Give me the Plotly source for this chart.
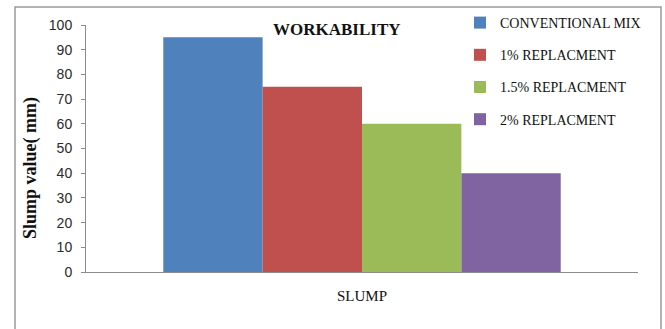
import plotly.graph_objects as go

# Slump test results for each mix
categories = ["SLUMP"]
series_names = ["CONVENTIONAL MIX", "1% REPLACMENT", "1.5% REPLACMENT", "2% REPLACMENT"]
slump_values = [95, 75, 60, 40]
colors = ["#4F81BD", "#C0504D", "#9BBB59", "#8064A2"]
y_ticks = [0, 10, 20, 30, 40, 50, 60, 70, 80, 90, 100]

W, H = 665, 329
L, R, T, B = 86, 27, 25, 57
pw, ph = W - L - R, H - T - B

fig = go.Figure()
for i, (name, val, col) in enumerate(zip(series_names, slump_values, colors)):
    fig.add_trace(go.Bar(
        x=categories, y=[val], name=name, marker_color=col,
        marker_line_width=0, legendgroup=f"g{i}",
    ))

def px_x(v):
    return (v - L) / pw

def px_y(v):
    return (H - B - v) / ph

serif = "Liberation Serif"

fig.update_layout(
    width=W, height=H,
    margin=dict(l=L, r=R, t=T, b=B, autoexpand=False),
    paper_bgcolor="white", plot_bgcolor="white",
    barmode="group", bargap=0.28, bargroupgap=0,
    showlegend=True,
    legend=dict(
        x=px_x(460), y=px_y(7), xanchor="left", yanchor="top",
        font=dict(family=serif, size=14, color="#111"),
        bgcolor="rgba(0,0,0,0)", traceorder="grouped", tracegroupgap=11,
        itemwidth=30,
    ),
    xaxis=dict(
        showticklabels=False, ticks="", showgrid=False, automargin=False,
        showline=True, linecolor="#8c8c8c", linewidth=1,
        title=dict(text="SLUMP", standoff=18,
                   font=dict(family=serif, size=15, color="#111")),
        fixedrange=True,
    ),
    yaxis=dict(
        range=[0, 100], tickvals=y_ticks, showgrid=False, zeroline=False,
        showline=True, linecolor="#8c8c8c", linewidth=1, automargin=False,
        ticks="outside", ticklen=4, tickcolor="#8c8c8c", ticklabelstandoff=6,
        tickfont=dict(family="Liberation Sans", size=14, color="#2a2a2a"),
        fixedrange=True,
    ),
    annotations=[
        dict(
            text="<b>WORKABILITY</b>", x=px_x(337), y=px_y(29),
            xref="paper", yref="paper", showarrow=False,
            xanchor="center", yanchor="middle",
            font=dict(family=serif, size=17, color="#111"),
        ),
        dict(
            text="<b>Slump value( mm)</b>", x=px_x(30), y=px_y(168),
            xref="paper", yref="paper", showarrow=False, textangle=-90,
            xanchor="center", yanchor="middle",
            font=dict(family=serif, size=18, color="#111"),
        ),
    ],
    shapes=[dict(
        type="rect", xref="paper", yref="paper",
        x0=px_x(15), x1=px_x(661), y0=px_y(340), y1=px_y(7),
        line=dict(color="#9a9a9a", width=1.5), fillcolor="rgba(0,0,0,0)",
        layer="below",
    )],
)

fig.write_html("out.html")
